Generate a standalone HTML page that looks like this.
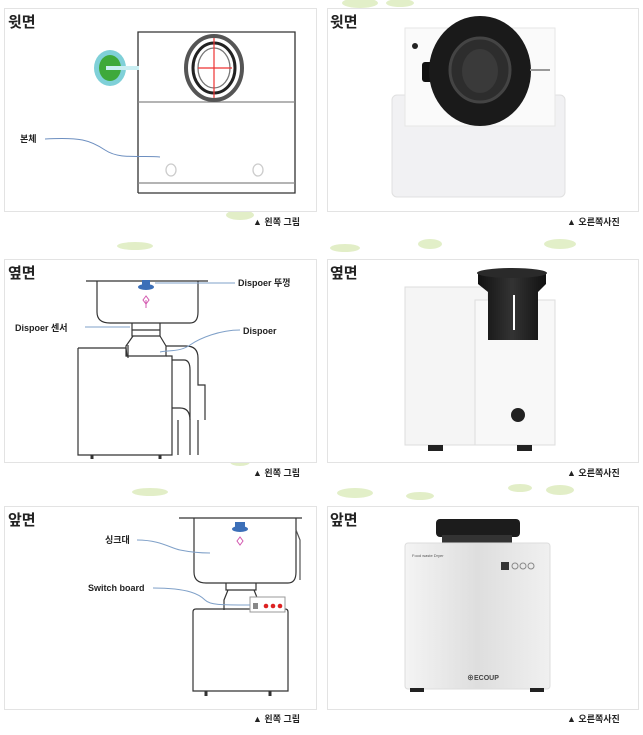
<!DOCTYPE html>
<html><head><meta charset="utf-8"><style>
body{margin:0;background:#fff;}
svg{display:block;font-family:"Liberation Sans","Noto Sans CJK KR",sans-serif;}
</style></head><body>
<svg width="643" height="735" viewBox="0 0 643 735" xmlns="http://www.w3.org/2000/svg">
<defs>
<linearGradient id="alu" x1="0" y1="0" x2="1" y2="0">
<stop offset="0" stop-color="#f4f4f4"/><stop offset="0.5" stop-color="#dedede"/><stop offset="1" stop-color="#f0f0f0"/></linearGradient>
<linearGradient id="cyl" x1="0" y1="0" x2="1" y2="0">
<stop offset="0" stop-color="#111"/><stop offset="0.5" stop-color="#333"/><stop offset="1" stop-color="#111"/></linearGradient>
</defs>
<!-- leaves -->
<g fill="#d6e8b0" opacity="0.7">
<ellipse cx="240" cy="215" rx="14" ry="5"/><ellipse cx="135" cy="246" rx="18" ry="4"/>
<ellipse cx="345" cy="248" rx="15" ry="4"/><ellipse cx="430" cy="244" rx="12" ry="5"/><ellipse cx="560" cy="244" rx="16" ry="5"/>
<ellipse cx="150" cy="492" rx="18" ry="4"/><ellipse cx="355" cy="493" rx="18" ry="5"/><ellipse cx="420" cy="496" rx="14" ry="4"/><ellipse cx="520" cy="488" rx="12" ry="4"/><ellipse cx="560" cy="490" rx="14" ry="5"/>
<ellipse cx="360" cy="3" rx="18" ry="5"/><ellipse cx="400" cy="3" rx="14" ry="4"/><ellipse cx="240" cy="462" rx="10" ry="4"/>
</g>
<!-- panels -->
<g fill="#fff" stroke="#e3e3e3" stroke-width="1">
<rect x="4.5" y="8.5" width="312" height="203"/><rect x="327.5" y="8.5" width="311" height="203"/>
<rect x="4.5" y="259.5" width="312" height="203"/><rect x="327.5" y="259.5" width="311" height="203"/>
<rect x="4.5" y="506.5" width="312" height="203"/><rect x="327.5" y="506.5" width="311" height="203"/>
</g>
<g font-size="15" font-weight="bold" fill="#222">
<text x="8" y="27">윗면</text><text x="330" y="27">윗면</text>
<text x="8" y="278">옆면</text><text x="330" y="278">옆면</text>
<text x="8" y="525">앞면</text><text x="330" y="525">앞면</text>
</g>
<g font-size="9" font-weight="bold" fill="#222">
<text x="253" y="225">▲ 왼쪽 그림</text><text x="567" y="225">▲ 오른쪽사진</text>
<text x="253" y="476">▲ 왼쪽 그림</text><text x="567" y="476">▲ 오른쪽사진</text>
<text x="253" y="722">▲ 왼쪽 그림</text><text x="567" y="722">▲ 오른쪽사진</text>
</g>
<!-- row1 left -->
<g fill="none" stroke="#333" stroke-width="1.3">
<path d="M138 193V32H295V193H138"/><line x1="138" y1="102" x2="295" y2="102" stroke="#888"/>
<line x1="138" y1="183" x2="295" y2="183" stroke="#888"/>
<ellipse cx="171" cy="170" rx="5" ry="6" stroke="#ccc"/><ellipse cx="258" cy="170" rx="5" ry="6" stroke="#ccc"/>
<ellipse cx="214" cy="68" rx="28" ry="32" stroke="#555" stroke-width="4"/>
<ellipse cx="214" cy="68" rx="21" ry="25" stroke="#222" stroke-width="3"/>
<ellipse cx="214" cy="68" rx="16" ry="20" stroke="#777"/>
</g>
<line x1="198" y1="68" x2="232" y2="68" stroke="#e33" stroke-width="1.2"/><line x1="214" y1="38" x2="214" y2="98" stroke="#e33" stroke-width="1.2"/>
<ellipse cx="110" cy="68" rx="16" ry="18" fill="#7fd0d8"/><ellipse cx="110" cy="68" rx="11" ry="13" fill="#3ea93a"/>
<rect x="106" y="66" width="33" height="4" fill="#c9eef2"/>
<text x="20" y="142" font-size="9" font-weight="bold" fill="#222">본체</text>
<path d="M45 139C80 137 90 140 105 150S140 155 160 157" stroke="#6d8fc0" fill="none"/>
<!-- row1 right photo -->
<rect x="392" y="95" width="173" height="102" rx="5" fill="#f1f1f3" stroke="#e0e0e0"/>
<rect x="405" y="28" width="150" height="98" fill="#fafafa" stroke="#e6e6e6"/>
<circle cx="415" cy="46" r="3" fill="#222"/>
<rect x="422" y="62" width="12" height="20" fill="#111" rx="3"/>
<ellipse cx="480" cy="71" rx="51" ry="55" fill="#1a1a1a"/>
<ellipse cx="480" cy="70" rx="30" ry="32" fill="#2d2d2d" stroke="#444" stroke-width="3"/>
<ellipse cx="480" cy="71" rx="18" ry="22" fill="#3a3a3a"/>
<line x1="530" y1="70" x2="550" y2="70" stroke="#999" stroke-width="2"/>
<!-- row2 left drawing -->
<g fill="none" stroke="#333" stroke-width="1.2">
<path d="M86 281H208M97 281V312Q97 323 110 323H190Q198 323 198 312V281"/>
<path d="M132 323V330H160V323M132 330H160V336H132Z"/>
<path d="M133 336L126 346V356H166V346L160 336"/>
<path d="M78 348V455H172V356H166M126 356H127L126 348H78"/>
<path d="M166 346H186Q198 346 198 358V385H205V420M172 360H184Q190 360 190 370V420"/>
<path d="M172 408H180Q190 408 190 420V455M178 420V455M198 420V455"/>
<path d="M92 455v4M160 455v4" stroke-width="3"/>
<line x1="128" y1="345" x2="128" y2="358"/>
</g>
<ellipse cx="146" cy="287" rx="8" ry="3" fill="#3c6fb8"/><rect x="142" y="280" width="8" height="6" fill="#3c6fb8"/>
<path d="M146 296l-3 4 3 4 3-4z M146 300v8" stroke="#d35ab0" fill="none"/>
<g font-size="9" font-weight="bold" fill="#222">
<text x="238" y="286">Dispoer 뚜껑</text><text x="15" y="331">Dispoer 센서</text><text x="243" y="334">Dispoer</text>
</g>
<path d="M155 283H235M85 327H130M240 330C220 330 200 338 190 345S170 350 160 352" stroke="#7fa0c8" fill="none"/>
<!-- row2 right photo -->
<rect x="405" y="287" width="83" height="158" fill="#f5f5f5" stroke="#ddd"/>
<rect x="475" y="300" width="80" height="145" fill="#f8f8f8" stroke="#ddd"/>
<path d="M478 272H546V284L538 292V340H488V292L478 284Z" fill="url(#cyl)"/>
<ellipse cx="512" cy="273" rx="35" ry="5" fill="#2a2a2a"/>
<line x1="514" y1="295" x2="514" y2="330" stroke="#fff" stroke-width="2"/>
<circle cx="518" cy="415" r="7" fill="#222"/>
<rect x="428" y="445" width="15" height="6" fill="#222"/><rect x="517" y="445" width="15" height="6" fill="#222"/>
<!-- row3 left drawing -->
<g fill="none" stroke="#333" stroke-width="1.2">
<path d="M179 518H302M194 518V572Q194 583 206 583H288Q296 583 296 572V518"/>
<path d="M296 530L300 540V580" stroke="#555"/>
<path d="M226 583V590H256V583M228 590L224 600V610M254 590L258 600V610"/>
<path d="M193 612Q193 609 196 609H285Q288 609 288 612V691H193Z"/>
<path d="M206 691v5M270 691v5" stroke-width="3"/>
<path d="M258 600L265 604" stroke-width="2"/>
</g>
<rect x="250" y="597" width="35" height="15" fill="#fff" stroke="#999"/>
<rect x="253" y="603" width="5" height="6" fill="#888"/>
<circle cx="266" cy="606" r="2.3" fill="#d22"/><circle cx="273" cy="606" r="2.3" fill="#d22"/><circle cx="280" cy="606" r="2.3" fill="#d22"/>
<rect x="235" y="522" width="10" height="5" fill="#3c6fb8"/><ellipse cx="240" cy="529" rx="8" ry="3" fill="#3c6fb8"/>
<path d="M240 537l-3 4 3 4 3-4z" stroke="#d35ab0" fill="none"/>
<g font-size="9" font-weight="bold" fill="#222"><text x="105" y="543">싱크대</text><text x="88" y="591">Switch board</text></g>
<path d="M137 540C160 540 170 548 180 550S200 553 210 553M153 588C190 588 200 595 205 600S220 605 250 605" stroke="#7fa0c8" fill="none"/>
<!-- row3 right photo -->
<rect x="436" y="519" width="84" height="18" rx="4" fill="#1c1c1c"/>
<rect x="442" y="535" width="70" height="10" fill="#333"/>
<rect x="405" y="543" width="145" height="146" rx="3" fill="url(#alu)" stroke="#ddd"/>
<text x="412" y="557" font-size="4" fill="#555">Food waste Dryer</text>
<rect x="501" y="562" width="8" height="8" fill="#333"/>
<g fill="none" stroke="#888"><circle cx="515" cy="566" r="3"/><circle cx="523" cy="566" r="3"/><circle cx="531" cy="566" r="3"/></g>
<text x="467" y="680" font-size="7" font-weight="bold" fill="#444">⊕ECOUP</text>
<rect x="410" y="688" width="14" height="4" fill="#222"/><rect x="530" y="688" width="14" height="4" fill="#222"/>
</svg>
</body></html>
